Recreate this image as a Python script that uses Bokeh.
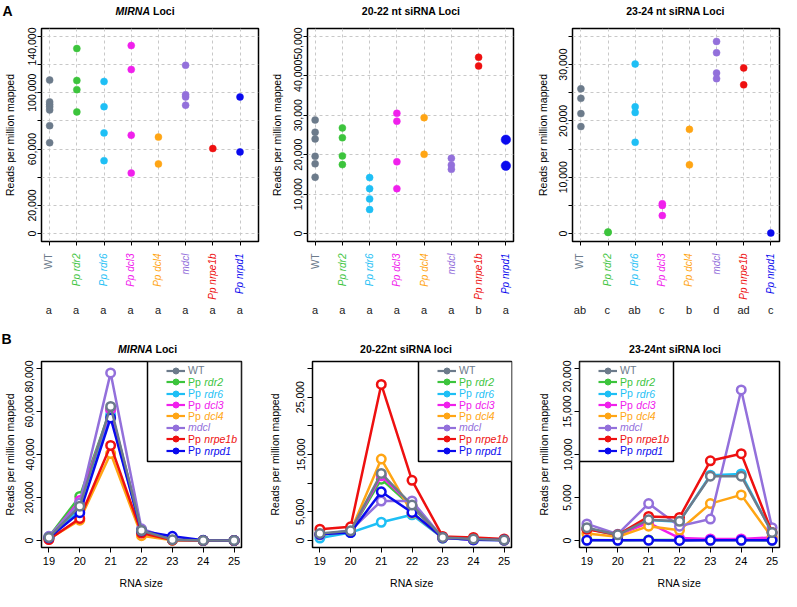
import math
from bokeh.plotting import figure
from bokeh.layouts import column, row
from bokeh.models import (Legend, LegendItem, BoxAnnotation, FixedTicker, Range1d,
                          ColumnDataSource, Label)
from bokeh.core.properties import value
from bokeh.embed import file_html
from bokeh.resources import INLINE

FONT = "Liberation Sans"
NAN = float("nan")

# ---------------- data ----------------
genotypes = ["WT", "Pp rdr2", "Pp rdr6", "Pp dcl3", "Pp dcl4", "mdcl", "Pp nrpe1b", "Pp nrpd1"]
prefixes = ["WT", "Pp", "Pp", "Pp", "Pp", "", "Pp", "Pp"]
genes = ["", "rdr2", "rdr6", "dcl3", "dcl4", "mdcl", "nrpe1b", "nrpd1"]
colors = ["#6C7B8B", "#3CC43C", "#1EBFF5", "#F020EC", "#FFA514", "#9370DB", "#EE1010", "#0A0AEE"]

# Panel A: reads per million mapped, per library
mirna_points = [
    [109000, 93500, 91700, 90000, 87800, 76600, 64500],
    [131400, 108700, 102200, 86400],
    [108000, 90100, 71500, 51800],
    [133500, 116500, 69900, 43000],
    [68500, 49500],
    [119500, 98600, 97000, 91200],
    [60400],
    [97000, 58000],
]
sirna2122_points = [
    [28800, 25700, 24000, 19600, 17700, 14300],
    [26800, 24300, 19700, 17500],
    [14200, 11400, 8800, 6100],
    [30500, 28500, 18200, 11400],
    [29400, 20100],
    [19100, 17400, 16300],
    [44700, 42500],
    [23800, 17200],
]
sirna2324_points = [
    [25700, 24000, 21300, 19000],
    [300, 200],
    [30100, 22500, 21500, 16200],
    [5300, 5000, 3200],
    [18500, 12200],
    [34100, 32100, 28500, 27500],
    [29400, 26400],
    [100],
]
letters_mirna = ["a", "a", "a", "a", "a", "a", "a", "a"]
letters_2122 = ["a", "a", "a", "a", "a", "a", "b", "a"]
letters_2324 = ["ab", "c", "ab", "c", "b", "d", "ad", "c"]

ticks_mirna = [0, 20000, 40000, 60000, 80000, 100000, 120000, 140000]
labels_mirna = ["0", "20,000", "", "60,000", "", "100,000", "", "140,000"]
ticks_2122 = [0, 10000, 20000, 30000, 40000, 50000]
labels_2122 = ["0", "10,000", "20,000", "30,000", "40,000", "50,000"]
ticks_2324 = [0, 5000, 10000, 15000, 20000, 25000, 30000, 35000]
labels_2324 = ["0", "", "10,000", "", "20,000", "", "30,000", ""]

# Panel B: size profiles (RNA size 19..25)
sizes = [19, 20, 21, 22, 23, 24, 25]
mirna_profile = [
    [1500, 16000, 62300, 4700, 450, 100, 100],
    [1800, 20500, 61000, 5000, 300, 60, 50],
    [1200, 14500, 58500, 4300, 250, 50, 50],
    [1400, 18600, 60800, 4500, 300, 60, 50],
    [800, 9500, 40500, 2300, 200, 40, 30],
    [2000, 17500, 77900, 5500, 500, 80, 80],
    [500, 10300, 44200, 3500, 250, 50, 50],
    [1300, 13000, 57000, 4500, 2000, 120, 100],
]
sirna2122_profile = [
    [1250, 1700, 11700, 6200, 560, 280, 110],
    [1000, 1600, 10700, 5900, 450, 200, 100],
    [450, 1400, 3200, 4500, 450, 150, 80],
    [1100, 1650, 11300, 6100, 500, 150, 100],
    [1000, 1600, 14200, 4800, 500, 250, 100],
    [1000, 1800, 6900, 6900, 500, 250, 120],
    [2000, 2400, 27200, 10500, 730, 560, 280],
    [1100, 1400, 8500, 4900, 500, 150, 100],
]
sirna2324_profile = [
    [1500, 670, 2430, 2240, 7480, 7480, 940],
    [80, 50, 80, 60, 60, 60, 50],
    [1400, 600, 2400, 2200, 7590, 7740, 900],
    [1400, 670, 2060, 300, 190, 190, 370],
    [820, 450, 1680, 1200, 4300, 5310, 370],
    [1940, 750, 4300, 1680, 2500, 17500, 1500],
    [1310, 670, 2800, 2690, 9270, 10090, 940],
    [40, 30, 30, 20, 30, 40, 30],
]
ticks_b_mirna = [0, 20000, 40000, 60000, 80000]
labels_b_mirna = ["0", "20,000", "40,000", "60,000", "80,000"]
ticks_b_2122 = [0, 5000, 10000, 15000, 20000, 25000, 30000]
labels_b_2122 = ["0", "5,000", "", "15,000", "", "25,000", ""]
ticks_b_2324 = [0, 5000, 10000, 15000, 20000]
labels_b_2324 = ["0", "5,000", "10,000", "15,000", "20,000"]

cat_x = list(range(1, len(genotypes) + 1))

# ---------------- layout constants (pixels) ----------------
TTL_TOP_H = 27        # title band, top row
TOP_FH = 213          # top frame height
TOP_BB = 6
MAIN_TOP_H = 1 + TOP_FH + TOP_BB
LAB_H = 79            # category label band
TTL_BOT_H = 34        # title band, bottom row
BOT_FH = 186
BOT_BB = 44
MAIN_BOT_H = 1 + BOT_FH + BOT_BB
COL_W = [265, 268, 248]


def plain_fig(width, height, xr, yr, bl=0, br=0):
    p = figure(width=width, height=height, output_backend="svg", toolbar_location=None,
               x_range=Range1d(*xr), y_range=Range1d(*yr), x_axis_type=None,
               y_axis_type=None, min_border_left=bl, min_border_right=br,
               min_border_top=0, min_border_bottom=0, frame_align=False)
    p.outline_line_color = None
    p.background_fill_color = "white"
    p.border_fill_color = "white"
    return p


def title_band(width, height, cx, y, parts, panel_letter=None, letter_x=2, letter_y=None,
               size="10.5px"):
    p = plain_fig(width, height, (0, width), (0, height))
    if len(parts) == 1:
        p.text(x=[cx], y=[y], text=[parts[0][0]], text_font=value(FONT),
               text_font_style=parts[0][1], text_font_size=size, text_align="center",
               text_baseline="middle", text_color="black")
    else:
        split = cx + 5
        p.text(x=[split], y=[y], text=[parts[0][0]], text_font=value(FONT),
               text_font_style=parts[0][1], text_font_size=size, text_align="right",
               text_baseline="middle", text_color="black")
        p.text(x=[split + 3], y=[y], text=[parts[1][0]], text_font=value(FONT),
               text_font_style=parts[1][1], text_font_size=size, text_align="left",
               text_baseline="middle", text_color="black")
    if panel_letter:
        p.text(x=[letter_x], y=[letter_y], text=[panel_letter], text_font=value(FONT),
               text_font_style="bold", text_font_size="14px", text_align="left",
               text_baseline="middle", text_color="black")
    return p


def label_band(width, bl, br, xr, letters):
    p = plain_fig(width, LAB_H, xr, (0, LAB_H), bl, br)
    top_y = LAB_H - 6
    upright = ColumnDataSource(dict(x=cat_x[:1], y=[top_y], text=genotypes[:1],
                                    color=colors[:1]))
    ital = ColumnDataSource(dict(x=cat_x[1:], y=[top_y] * (len(cat_x) - 1),
                                 text=genotypes[1:], color=colors[1:]))
    for s, st in ((upright, "normal"), (ital, "italic")):
        p.text(x="x", y="y", text="text", source=s, angle=math.pi / 2, text_align="right",
               text_baseline="middle", text_color="color", text_font=value(FONT),
               text_font_size="10px", text_font_style=st)
    lsrc = ColumnDataSource(dict(x=cat_x, y=[17] * len(cat_x), text=letters))
    p.text(x="x", y="y", text="text", source=lsrc, text_align="center",
           text_baseline="middle", text_color="#222222", text_font=value(FONT),
           text_font_size="11px")
    return p


def style_main(p):
    p.outline_line_color = "black"
    p.outline_line_width = 1.5
    p.outline_line_alpha = 1
    p.background_fill_color = "white"
    p.border_fill_color = "white"
    for ax in (p.xaxis[0], p.yaxis[0]):
        ax.axis_line_color = None
        ax.major_tick_line_color = "black"
        ax.major_tick_line_width = 1
        ax.minor_tick_line_color = None
        ax.major_tick_in = 0
        ax.major_label_text_font = FONT
        ax.major_label_text_color = "black"
        ax.axis_label_text_font = FONT
        ax.axis_label_text_font_style = "normal"
        ax.axis_label_text_color = "black"


def y_axis(p, yticks, ylabels, tick_out, standoff, ax_std):
    p.yaxis.ticker = FixedTicker(ticks=yticks)
    p.yaxis.major_label_overrides = dict(zip(yticks, ylabels))
    p.yaxis.major_label_orientation = "vertical"
    p.yaxis.major_label_text_font_size = "10.5px"
    p.yaxis.major_tick_out = tick_out
    p.yaxis.major_label_standoff = standoff
    p.yaxis.axis_label = "Reads per million mapped"
    p.yaxis.axis_label_text_font_size = "10.5px"
    p.yaxis.axis_label_standoff = ax_std


def top_panel(points, letters, yticks, ylabels, ymax, xr, width, bl, br, ax_std,
              title_parts, title_cx, big=None, panel_letter=None):
    p = figure(width=width, height=MAIN_TOP_H, output_backend="svg", toolbar_location=None,
               x_range=Range1d(*xr), y_range=Range1d(-0.04 * ymax, 1.04 * ymax),
               min_border_left=bl, min_border_right=br, min_border_top=1,
               min_border_bottom=TOP_BB, frame_align=False)
    style_main(p)
    p.xaxis.ticker = FixedTicker(ticks=cat_x)
    p.xaxis.major_label_overrides = {x: "" for x in cat_x}
    p.xaxis.major_label_text_font_size = "0px"
    p.xaxis.major_label_standoff = 0
    p.xaxis.major_tick_out = 4
    y_axis(p, yticks, ylabels, 4, 1, ax_std)
    for g in (p.xgrid[0], p.ygrid[0]):
        g.grid_line_color = "#c8c8c8"
        g.grid_line_dash = "3 3"
        g.grid_line_width = 1
    for i, vals in enumerate(points):
        sz = 9.5 if (big is not None and i == big) else 7
        p.scatter([cat_x[i]] * len(vals), vals, size=sz, fill_color=colors[i],
                  line_color=colors[i], line_width=0.5)
    t = title_band(width, TTL_TOP_H, title_cx, 17, title_parts, panel_letter, 2, 17)
    lab = label_band(width, bl, br, xr, letters)
    return column(t, p, lab, spacing=0)


def bottom_panel(profiles, yticks, ylabels, ymax, width, bl, br, ax_std, title_parts,
                 title_cx, legend_right, panel_letter=None):
    fw = width - bl - br
    fh = BOT_FH
    span = max(sizes) - min(sizes)
    xr = (min(sizes) - 0.04 * span, max(sizes) + 0.04 * span)
    p = figure(width=width, height=MAIN_BOT_H, output_backend="svg", toolbar_location=None,
               x_range=Range1d(*xr), y_range=Range1d(-0.04 * ymax, 1.04 * ymax),
               min_border_left=bl, min_border_right=br, min_border_top=1,
               min_border_bottom=BOT_BB, frame_align=False)
    style_main(p)
    p.xgrid.visible = False
    p.ygrid.visible = False
    p.xaxis.ticker = FixedTicker(ticks=sizes)
    p.xaxis.major_label_text_font_size = "11px"
    p.xaxis.major_tick_out = 5
    p.xaxis.major_label_standoff = 4
    p.xaxis.axis_label = "RNA size"
    p.xaxis.axis_label_text_font_size = "10.5px"
    p.xaxis.axis_label_standoff = 9
    y_axis(p, yticks, ylabels, 5, 3, ax_std)
    order = [1, 2, 3, 4, 5, 6, 7, 0]
    for i in order:
        p.line(sizes, profiles[i], line_color=colors[i], line_width=2.5)
        p.scatter(sizes, profiles[i], size=8.5, line_color=colors[i], line_width=2.5,
                  fill_color="white")
    # legend box
    box_w, box_h = 94, 100
    bx0 = fw - box_w if legend_right else 0
    p.add_layout(BoxAnnotation(left=bx0, right=bx0 + box_w, top=fh, bottom=fh - box_h,
                               left_units="screen", right_units="screen",
                               top_units="screen", bottom_units="screen",
                               fill_color="white", fill_alpha=1, line_color="black",
                               line_width=1.5, line_alpha=1))
    lx = bx0 + 19
    for k in range(len(genotypes)):
        cy = fh - 9.3 - 11.4 * k
        # legend-only swatch renderers (no visible data)
        lr = p.line(x=[NAN], y=[NAN], line_color=colors[k], line_width=2.2)
        sr = p.scatter(x=[NAN], y=[NAN], fill_color=colors[k], line_color=colors[k])
        is_mdcl = prefixes[k] == ""
        lab = genes[k] if is_mdcl else prefixes[k]
        leg = Legend(items=[LegendItem(label=lab, renderers=[lr, sr])],
                     location=(lx, cy - 7.5), orientation="vertical", padding=0, spacing=0,
                     margin=0, border_line_color=None, background_fill_alpha=0,
                     glyph_width=19, glyph_height=15, label_height=15, label_width=5,
                     label_standoff=3, label_text_font=FONT, label_text_font_size="10.5px",
                     label_text_color=colors[k], label_text_baseline="middle",
                     label_text_font_style="italic" if is_mdcl else "normal")
        p.add_layout(leg)
        if prefixes[k] not in ("", "WT"):
            p.add_layout(Label(x=lx + 22 + 15.8, y=cy, x_units="screen", y_units="screen",
                               text=genes[k], text_font=FONT, text_font_style="italic",
                               text_font_size="10.5px", text_color=colors[k],
                               text_align="left", text_baseline="middle"))
    t = title_band(width, TTL_BOT_H, title_cx, 12, title_parts, panel_letter, 1, 22)
    return column(t, p, spacing=0)


c1 = top_panel(mirna_points, letters_mirna, ticks_mirna, labels_mirna, 140000,
               (0.70, 8.68), COL_W[0], 40, 7, 10,
               [("MIRNA", "bold italic"), ("Loci", "bold")], 144.5, panel_letter="A")
c2 = top_panel(sirna2122_points, letters_2122, ticks_2122, labels_2122, 50000,
               (0.72, 8.28), COL_W[1], 42, 20, 9, [("20-22 nt siRNA Loci", "bold")], 145.6,
               big=7)
c3 = top_panel(sirna2324_points, letters_2324, ticks_2324, labels_2324, 35000,
               (0.69, 8.32), COL_W[2], 38, 2, 8, [("23-24 nt siRNA Loci", "bold")], 142)

c4 = bottom_panel(mirna_profile, ticks_b_mirna, labels_b_mirna, 80000, COL_W[0], 41, 24, 7,
                  [("MIRNA", "bold italic"), ("Loci", "bold")], 147, True, panel_letter="B")
c5 = bottom_panel(sirna2122_profile, ticks_b_2122, labels_b_2122, 30000, COL_W[1], 46, 22,
                  13, [("20-22nt siRNA loci", "bold")], 140.7, True)
c6 = bottom_panel(sirna2324_profile, ticks_b_2324, labels_b_2324, 20000, COL_W[2], 46, 2,
                  11, [("23-24nt siRNA loci", "bold")], 141.7, False)

layout = column(row(c1, c2, c3, spacing=0), row(c4, c5, c6, spacing=0), spacing=0)
open("out.html", "w").write(file_html(layout, INLINE))
